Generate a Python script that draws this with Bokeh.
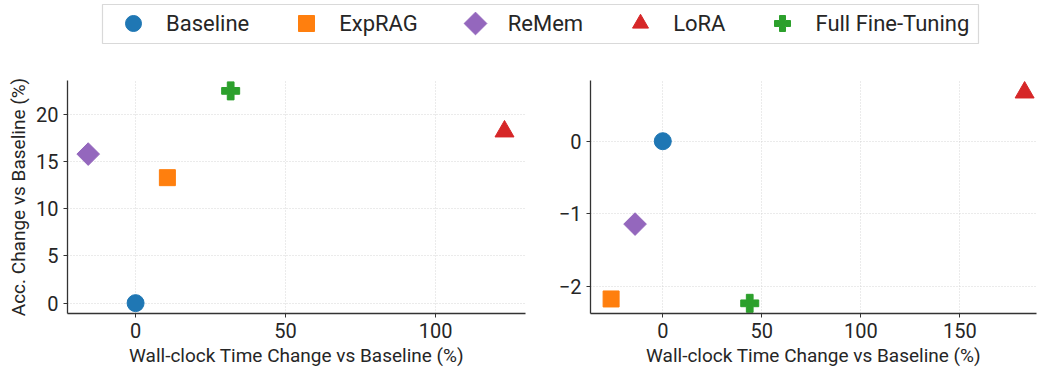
import numpy as np
from bokeh.plotting import figure
from bokeh.layouts import column, row
from bokeh.models import Legend, LegendItem, FixedTicker, Range1d, CustomJS
from bokeh.embed import file_html
from bokeh.resources import INLINE

# ---- data ----
methods = ["Baseline", "ExpRAG", "ReMem", "LoRA", "Full Fine-Tuning"]
colors = ["#1f77b4", "#ff7f0e", "#9467bd", "#d62728", "#2ca02c"]
markers = ["circle", "square", "square", "triangle", "plus"]
legend_markers = ["circle", "square", "@rdiamond", "triangle", "plus"]
angles = [0, 0, np.pi / 4, 0, 0]
sizes = [17, 16, 16, 19, 18]

left_time = [0.0, 10.6, -15.8, 123.0, 31.7]
left_acc = [0.0, 13.3, 15.8, 18.2, 22.5]
right_time = [0.0, -26.1, -14.0, 182.7, 43.9]
right_acc = [0.0, -2.17, -1.14, 0.67, -2.23]

left_xticks = [0, 50, 100]
left_yticks = [0, 5, 10, 15, 20]
right_xticks = [0, 50, 100, 150]
right_yticks = [-2, -1, 0]
right_ytick_labels = {-2: "\u22122", -1: "\u22121", 0: "0"}

xlabel = "Wall-clock Time Change vs Baseline (%)"
ylabel = "Acc. Change vs Baseline (%)"

FONT = "Roboto"
TXT = "#262626"

diamond_def = CustomJS(code="""
export default (args, obj, {ctx, i, r, visuals}) => {
    const d = r * 1.42
    ctx.beginPath()
    ctx.moveTo(0, -d)
    ctx.lineTo(d, 0)
    ctx.lineTo(0, d)
    ctx.lineTo(-d, 0)
    ctx.closePath()
    visuals.fill.apply(ctx, i)
    visuals.line.apply(ctx, i)
}
""")


def style(p):
    p.outline_line_color = None
    for ax in (p.xaxis, p.yaxis):
        ax.axis_line_color = "#333333"
        ax.axis_line_width = 1.3
        ax.major_tick_line_color = "#333333"
        ax.major_tick_out = 4
        ax.major_tick_in = 0
        ax.minor_tick_line_color = None
        ax.major_label_text_font = FONT
        ax.major_label_text_font_size = "20px"
        ax.major_label_text_color = TXT
        ax.axis_label_text_font = FONT
        ax.axis_label_text_font_size = "19px"
        ax.axis_label_text_font_style = "normal"
        ax.axis_label_text_color = TXT
        ax.major_label_standoff = 5
        ax.axis_label_standoff = 3
    for g in (p.xgrid, p.ygrid):
        g.grid_line_color = "#cccccc"
        g.grid_line_dash = "1 2"
        g.grid_line_width = 0.8


def draw(p, xs, ys):
    rs = []
    for i in range(len(methods)):
        r = p.scatter([xs[i]], [ys[i]], marker=markers[i], size=sizes[i],
                      angle=angles[i], fill_color=colors[i], line_color=colors[i])
        rs.append(r)
    return rs


p1 = figure(width=555, height=319, output_backend="svg", toolbar_location=None,
            x_range=Range1d(-22.7, 130), y_range=Range1d(-1.1, 23.6),
            min_border_left=67, min_border_right=30, min_border_top=30, min_border_bottom=56)
style(p1)
p1.xaxis.ticker = FixedTicker(ticks=left_xticks)
p1.yaxis.ticker = FixedTicker(ticks=left_yticks)
p1.xaxis.axis_label = xlabel
p1.yaxis.axis_label = ylabel
draw(p1, left_time, left_acc)

p2 = figure(width=483, height=319, output_backend="svg", toolbar_location=None,
            x_range=Range1d(-36.5, 188.7), y_range=Range1d(-2.37, 0.835),
            min_border_left=32, min_border_right=2, min_border_top=30, min_border_bottom=56)
style(p2)
p2.xaxis.ticker = FixedTicker(ticks=right_xticks)
p2.yaxis.ticker = FixedTicker(ticks=right_yticks)
p2.yaxis.major_label_overrides = right_ytick_labels
p2.xaxis.axis_label = xlabel
draw(p2, right_time, right_acc)

# ---- legend strip (frame outline acts as the legend box) ----
lf = figure(width=1038, height=50, output_backend="svg", toolbar_location=None,
            x_range=Range1d(0, 1), y_range=Range1d(0, 1),
            min_border_left=102, min_border_right=60, min_border_top=4, min_border_bottom=7)
lf.axis.visible = False
lf.grid.visible = False
lf.outline_line_color = "#d9d9d9"
lf.outline_line_width = 1.2
lrs = []
for i in range(len(methods)):
    kw = {}
    if legend_markers[i].startswith("@"):
        kw["defs"] = {legend_markers[i]: diamond_def}
    r = lf.scatter([5], [5], marker=legend_markers[i], size=sizes[i],
                   fill_color=colors[i], line_color=colors[i], **kw)
    lrs.append(r)
legend = Legend(items=[LegendItem(label=m, renderers=[r]) for m, r in zip(methods, lrs)],
                orientation="horizontal", location=(11, 0),
                glyph_width=40, glyph_height=40, label_standoff=13, spacing=37,
                padding=0, margin=0,
                label_text_font=FONT, label_text_font_size="22px", label_text_color=TXT,
                label_height=39,
                border_line_color=None, background_fill_alpha=0.0)
lf.add_layout(legend, "center")

layout = column(lf, row(p1, p2, spacing=0), spacing=0)

open("out.html", "w").write(file_html(layout, INLINE))
